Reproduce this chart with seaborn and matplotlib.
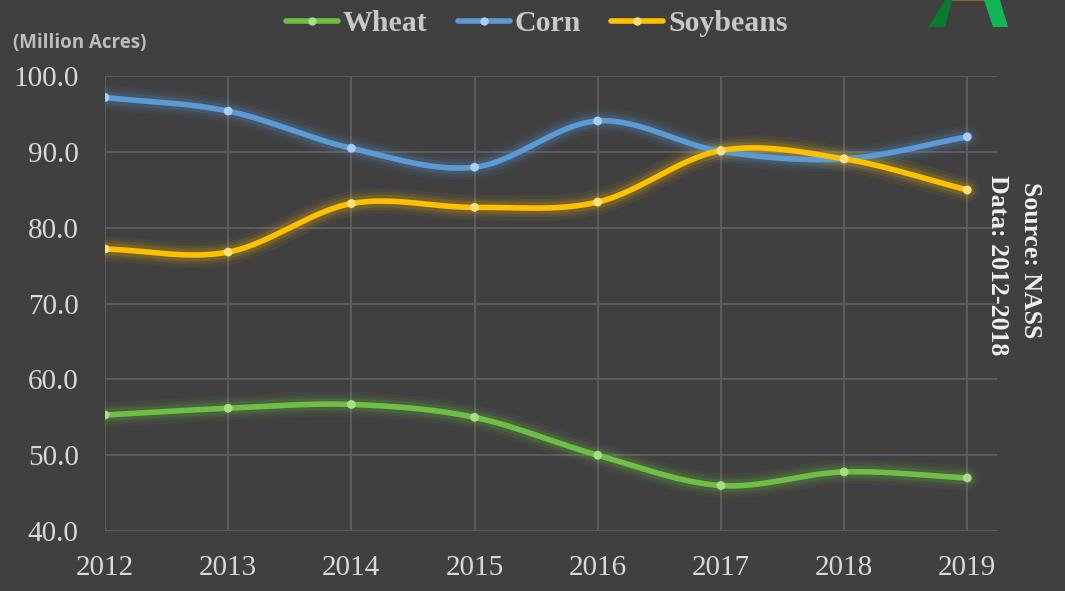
import numpy as np
import pandas as pd
import matplotlib
matplotlib.use("Agg")
import matplotlib.pyplot as plt
import seaborn as sns
from matplotlib.patches import Polygon

years = [2012, 2013, 2014, 2015, 2016, 2017, 2018, 2019]
wheat = [55.3, 56.2, 56.7, 55.0, 50.0, 46.0, 47.8, 47.0]
corn = [97.2, 95.4, 90.5, 88.0, 94.1, 90.1, 89.1, 92.0]
soybeans = [77.2, 76.8, 83.2, 82.7, 83.4, 90.2, 89.1, 85.0]
series_names = ["Wheat", "Corn", "Soybeans"]
y_ticks = [40.0, 50.0, 60.0, 70.0, 80.0, 90.0, 100.0]

colors = {"Wheat": "#6fbf45", "Corn": "#5b9bd5", "Soybeans": "#ffc000"}
marker_colors = {"Wheat": "#a8dd88", "Corn": "#a9cdf0", "Soybeans": "#ffe07a"}
bg = "#404040"
grid_c = "#5e5e5e"
text_c = "#d9d9d9"

sns.set_theme(style="dark")
plt.rcParams["font.family"] = ["Liberation Serif", "DejaVu Serif"]

fig = plt.figure(figsize=(10.65, 5.91), dpi=100, facecolor=bg)
ax = fig.add_axes([0.0986, 0.1015, 0.8374, 0.7695])
ax.set_facecolor(bg)


def smooth(xs, ys, n=30):
    # Catmull-Rom style smoothing (rendering only, like Excel's smoothed line)
    xs = np.asarray(xs, float)
    ys = np.asarray(ys, float)
    px = np.concatenate([[2 * xs[0] - xs[1]], xs, [2 * xs[-1] - xs[-2]]])
    py = np.concatenate([[2 * ys[0] - ys[1]], ys, [2 * ys[-1] - ys[-2]]])
    ox, oy = [], []
    for i in range(1, len(px) - 2):
        p0, p1, p2, p3 = [np.array([px[j], py[j]]) for j in (i - 1, i, i + 1, i + 2)]
        c1 = p1 + (p2 - p0) / 6.0
        c2 = p2 - (p3 - p1) / 6.0
        t = np.linspace(0, 1, n, endpoint=(i == len(px) - 3))[:, None]
        pts = ((1 - t) ** 3) * p1 + 3 * ((1 - t) ** 2) * t * c1 + 3 * (1 - t) * t ** 2 * c2 + t ** 3 * p2
        ox.extend(pts[:, 0])
        oy.extend(pts[:, 1])
    return np.array(ox), np.array(oy)


data = {"Wheat": wheat, "Corn": corn, "Soybeans": soybeans}
handles = []
for name in series_names:
    sx, sy = smooth(years, data[name])
    c = colors[name]
    for lw, a in [(18, 0.06), (13, 0.09), (9, 0.15)]:
        ax.plot(sx, sy, color=c, lw=lw, alpha=a, solid_capstyle="round", zorder=2)
    sns.lineplot(x=sx, y=sy, ax=ax, color=c, lw=4, sort=False, zorder=3)
    sns.scatterplot(x=years, y=data[name], ax=ax, color=marker_colors[name], s=40,
                    edgecolor="none", zorder=4)
    handles.append(plt.Line2D([0], [0], color=c, lw=4, marker="o", markersize=6,
                              markerfacecolor=marker_colors[name], markeredgecolor="none"))

ax.set_xlim(2012, 2019.24)
ax.set_ylim(40, 100)
ax.set_xticks(years)
ax.set_xticklabels([str(y) for y in years])
ax.set_yticks(y_ticks)
ax.set_yticklabels([f"{v:.1f}" for v in y_ticks])
ax.grid(True, color=grid_c, lw=1.3)
for s in ax.spines.values():
    s.set_visible(False)
ax.tick_params(axis="both", colors=text_c, labelsize=21, length=0)
ax.tick_params(axis="x", pad=17)
ax.tick_params(axis="y", pad=19)
ax.set_xlabel("")
ax.set_ylabel("")

fig.text(0.012, 0.928, "(Million Acres)", color="#bdbdbd", fontsize=13.5,
         fontweight="bold", family=["Open Sans", "DejaVu Sans"], ha="left", va="center")

leg = fig.legend(handles, series_names, loc="center", bbox_to_anchor=(0.504, 0.960),
                 ncol=3, frameon=False, handlelength=1.75, handletextpad=0.17,
                 columnspacing=1.0,
                 prop={"family": ["Liberation Serif"], "weight": "bold", "size": 21.5})
for t in leg.get_texts():
    t.set_color("#c8c8c8")

fig.text(0.968, 0.56, "Source: NASS", rotation=270, color="#f0f0f0", fontsize=18.5,
         fontweight="bold", ha="center", va="center")
fig.text(0.937, 0.552, "Data: 2012-2018", rotation=270, color="#f0f0f0", fontsize=18.5,
         fontweight="bold", ha="center", va="center")

# partial logo in the top-right corner
def fig_poly(pts, color):
    p = Polygon([(x / 1065, 1 - y / 591) for x, y in pts], closed=True,
                transform=fig.transFigure, facecolor=color, edgecolor="none")
    fig.patches.append(p)

fig_poly([(945, 0), (952, 0), (945, 27), (928, 27)], "#0b7a2e")
fig_poly([(984, 0), (1000, 0), (1008, 27), (993, 27)], "#12b454")
fig_poly([(952, 0), (984, 0), (984, 1), (952, 1)], "#8a6a1a")

fig.savefig("out.png", dpi=100, facecolor=bg)
